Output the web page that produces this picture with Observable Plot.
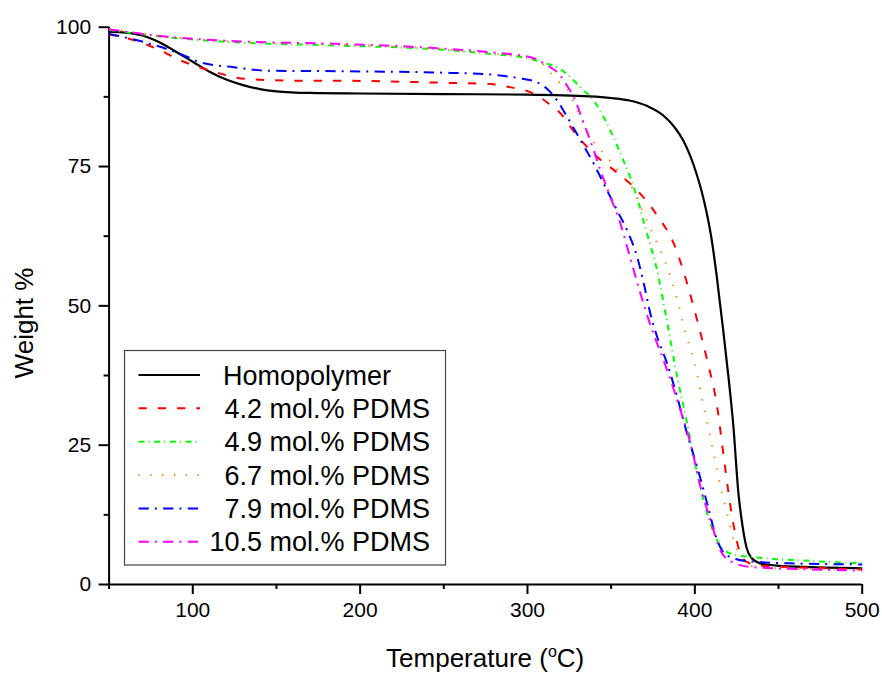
<!DOCTYPE html>
<html>
<head>
<meta charset="utf-8">
<script src="https://cdn.jsdelivr.net/npm/d3@7"></script>
<script src="https://cdn.jsdelivr.net/npm/@observablehq/plot@0.6"></script>
<style>
  body { margin: 0; background: #fff; }
  #chart { width: 882px; height: 673px; }
  #chart svg [aria-label$="tick label"] { font-size: 21px !important; }
  #chart svg [aria-label$="tick label"] text { font-size: 21px !important; }
</style>
</head>
<body>
<div id="chart"></div>
<script>
// ---- data ----
const seriesNames = ["Homopolymer", "4.2 mol.% PDMS", "4.9 mol.% PDMS", "6.7 mol.% PDMS", "7.9 mol.% PDMS", "10.5 mol.% PDMS"];

const homoT = [50, 60, 70, 80, 90, 100, 110, 120, 130, 140, 150, 170, 200, 250, 300, 337, 350, 361.6, 372, 381, 388, 393, 401, 404, 407, 410, 413, 417, 420, 423, 426, 428.5, 431, 434, 439, 449, 470, 500];
const homoW = [99.2, 99.0, 98.5, 97.3, 95.6, 93.8, 92.0, 90.6, 89.6, 88.9, 88.5, 88.2, 88.1, 88.0, 87.9, 87.6, 87.3, 86.8, 85.8, 84.2, 82.0, 79.7, 73.7, 70.6, 66.8, 62.0, 55.5, 45.5, 37.5, 28.5, 16.5, 10.5, 6.5, 4.7, 3.8, 3.4, 3.1, 2.9];

const redT = [50, 65.6, 80.8, 90.7, 110.6, 132.5, 164, 182, 254, 278, 290, 302, 311.8, 321.6, 325.7, 339.6, 355.6, 365.6, 377.5, 387.4, 395.4, 401.4, 407.4, 413.4, 417.3, 422.3, 427.3, 432, 439, 470, 500];
const redW = [98.7, 97.6, 95.8, 94.3, 92.2, 90.7, 90.4, 90.4, 90.0, 89.8, 89.2, 88.3, 86.5, 83.9, 82.1, 77.3, 73.4, 70.7, 66.2, 61.2, 54.0, 47.4, 40.2, 31.8, 22.8, 12.1, 5.5, 3.9, 3.4, 3.0, 2.7];

const greenT = [50, 84.7, 124.4, 188, 242, 278, 302, 310, 317.8, 325.7, 331.7, 339.6, 345.5, 355.6, 363.5, 371.5, 377.5, 382.5, 389.5, 395.4, 401.4, 407.4, 413.4, 419.3, 427, 435, 471, 500];
const greenW = [99.5, 98.2, 97.3, 96.7, 96.1, 95.2, 94.3, 93.6, 92.8, 91.0, 89.2, 86.8, 83.9, 77.3, 71.3, 62.9, 56.3, 48.6, 37.2, 28.9, 19.9, 12.7, 7.9, 5.8, 5.2, 4.9, 4.2, 3.8];

const orangeT = [50, 84.7, 124.4, 188, 242, 278, 302, 310, 317.8, 323.7, 329.7, 337.6, 347.6, 355.6, 363.5, 369.5, 377.5, 383.5, 389.5, 394.5, 399.4, 405.4, 411.3, 415.3, 419.3, 423.3, 427.3, 433, 440, 470, 500];
const orangeW = [99.7, 98.3, 97.4, 96.9, 96.2, 95.3, 94.4, 93.2, 90.4, 88.9, 85.1, 80.3, 76.7, 73.7, 70.7, 66.5, 61.2, 56.9, 51.0, 45.0, 40.2, 31.8, 23.5, 17.5, 12.7, 7.9, 4.9, 3.4, 3.0, 2.8, 2.6];

const blueT = [50, 74.7, 92.7, 104.6, 124.4, 144.5, 188, 254, 278, 293.9, 305.8, 311.8, 317.8, 323.7, 331.7, 339.6, 345.6, 353.6, 359.6, 365.6, 369.5, 373.5, 377.5, 383.5, 389.5, 395.4, 401.4, 407.4, 413.4, 419.3, 431.3, 457, 500];
const blueW = [98.8, 97.0, 95.2, 93.7, 92.8, 92.2, 92.1, 91.8, 91.5, 90.9, 90.1, 88.9, 86.8, 83.9, 79.7, 75.5, 71.9, 67.1, 63.5, 58.7, 54.0, 48.5, 44.4, 39.6, 33.6, 27.0, 21.1, 14.5, 7.9, 5.2, 4.2, 3.8, 3.6];

const magentaT = [50, 84.7, 124.4, 188, 242, 278, 302, 309.8, 313.8, 319.7, 321.7, 327.7, 333.7, 339.6, 343.6, 349.6, 355.6, 359.6, 367.5, 372.5, 383.5, 391.5, 397.5, 403.4, 409.4, 415.3, 422.3, 435, 470, 500];
const magentaW = [99.6, 98.3, 97.5, 97.0, 96.3, 95.5, 94.6, 93.5, 92.8, 91.3, 90.4, 87.4, 82.7, 77.9, 74.3, 69.5, 64.7, 60.5, 52.2, 47.4, 38.4, 31.2, 25.2, 17.5, 11.5, 6.1, 4.0, 3.1, 2.7, 2.5];

const xMajorTicks = [100, 200, 300, 400, 500];
const xMinorTicks = [50, 150, 250, 350, 450];
const yMajorTicks = [0, 25, 50, 75, 100];
const yMinorTicks = [12.5, 37.5, 62.5, 87.5];

const xTitle = "Temperature (";
const xTitleSup = "o";
const xTitleEnd = "C)";
const yTitle = "Weight %";

// ---- styles ----
const colors = ["#000000", "#FF0000", "#00FF00", "#FF8000", "#0000FF", "#FF00FF"];
const dashes = [null, "8.3,11", "6,4,1,4.7", "1.3,10.5", "10.3,6,2,6.3", "10.3,6,2,6.3"];
const widths = [2.2, 2, 2, 2, 2, 2];

const seriesT = [homoT, redT, greenT, orangeT, blueT, magentaT];
const seriesW = [homoW, redW, greenW, orangeW, blueW, magentaW];
const tables = seriesT.map((ts, i) => ts.map((t, j) => ({series: seriesNames[i], T: t, W: seriesW[i][j]})));

const FONT = "'Liberation Sans', Arial, Helvetica, sans-serif";

const lineMarks = tables.map((tab, i) => Plot.line(tab, {
  x: "T", y: "W",
  stroke: colors[i],
  strokeWidth: widths[i],
  strokeDasharray: dashes[i] || undefined,
  strokeLinecap: "butt",
  curve: "monotone-x"
}));

const W = 882, H = 673;
const svg = Plot.plot({
  width: W, height: H,
  marginLeft: 108.6, marginRight: 20.3, marginTop: 26.7, marginBottom: 89,
  x: {domain: [50, 500], label: null},
  y: {domain: [0, 100], label: null},
  style: {fontFamily: FONT, fontSize: "21px", color: "#000", background: "#fff", overflow: "visible"},
  marks: [
    Plot.axisX(xMinorTicks, {tickSize: 5, strokeWidth: 2, tickFormat: () => "", label: null}),
    Plot.axisX(xMajorTicks, {tickSize: 10, tickPadding: 8, strokeWidth: 2, fontSize: 21, label: null}),
    Plot.axisY(yMinorTicks, {tickSize: 5, strokeWidth: 2, tickFormat: () => "", label: null}),
    Plot.axisY(yMajorTicks, {tickSize: 10, tickPadding: 8, strokeWidth: 2, fontSize: 21, label: null}),
    Plot.ruleX([50], {y1: 0, y2: 100, strokeWidth: 2, stroke: "#000"}),
    Plot.ruleY([0], {x1: 50, x2: 500, strokeWidth: 2, stroke: "#000"}),
    ...lineMarks
  ]
});

const s = d3.select(svg);
s.selectAll('[aria-label$="tick label"]').attr("font-size", 21).style("font-size", "21px");

// axis titles
const xt = s.append("text")
  .attr("x", (108.6 + (W - 20.3)) / 2).attr("y", 667)
  .attr("text-anchor", "middle")
  .style("font-family", FONT).style("font-size", "26px").attr("fill", "#000");
xt.append("tspan").text(xTitle);
xt.append("tspan").attr("dy", -10).style("font-size", "16px").text(xTitleSup);
xt.append("tspan").attr("dy", 10).text(xTitleEnd);

s.append("text")
  .attr("transform", "translate(33,323) rotate(-90)")
  .attr("text-anchor", "middle")
  .style("font-family", FONT).style("font-size", "26px").attr("fill", "#000")
  .text(yTitle);

// legend
const lg = s.append("g");
lg.append("rect").attr("x", 124.5).attr("y", 350.5).attr("width", 321).attr("height", 214.5)
  .attr("fill", "none").attr("stroke", "#444").attr("stroke-width", 1.2);
seriesNames.forEach((name, i) => {
  const cy = 375 + i * 33.35;
  lg.append("line").attr("x1", 138.5).attr("x2", 200).attr("y1", cy).attr("y2", cy)
    .attr("stroke", colors[i]).attr("stroke-width", widths[i])
    .attr("stroke-dasharray", dashes[i] || null);
  const t = lg.append("text").attr("y", cy + 9.5)
    .style("font-family", FONT).style("font-size", "27px").attr("fill", "#000").text(name);
  if (i === 0) t.attr("x", 223).attr("text-anchor", "start");
  else t.attr("x", 430).attr("text-anchor", "end");
});

document.getElementById("chart").appendChild(svg);
</script>
</body>
</html>
